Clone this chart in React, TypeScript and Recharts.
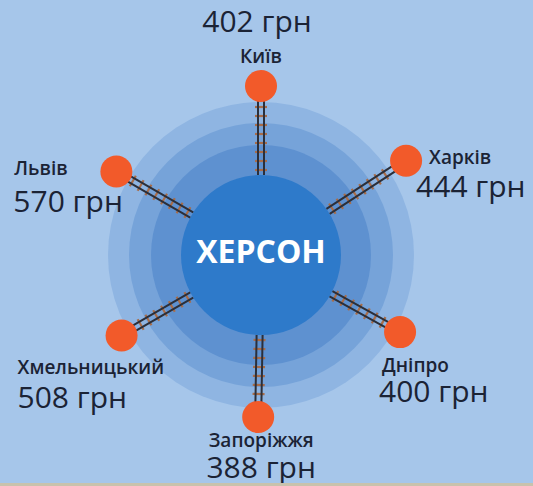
import { ReferenceDot, Scatter, ScatterChart, XAxis, YAxis } from "recharts";

// міста, ціни квитків до Херсона (грн), напрям від центру (градуси) і довжина спиці
const cities = ["Київ", "Харків", "Дніпро", "Запоріжжя", "Хмельницький", "Львів"];
const prices = [402, 444, 400, 388, 508, 570];
const bearings = [90, 33, -29, -91, 210, 150];
const spokes = [169, 173, 159, 162, 161, 167];
const hubName = "ХЕРСОН";
const currency = "грн";

const FONT = "'Open Sans', 'Noto Sans', sans-serif";
const INK = "#1b2335";
const NODE_R = 16;
const HUB_R = 80;

// розташування підписів відносно вузла (px)
const LABELS: Record<string, { anchor: "start" | "middle"; name: [number, number]; price: [number, number] }> = {
  "Київ": { anchor: "middle", name: [0, -23], price: [-4, -54] },
  "Харків": { anchor: "start", name: [23, 3], price: [10, 36] },
  "Дніпро": { anchor: "start", name: [-18, 40], price: [-21, 70] },
  "Запоріжжя": { anchor: "middle", name: [3, 30], price: [3, 61] },
  "Хмельницький": { anchor: "start", name: [-104, 38], price: [-104, 72] },
  "Львів": { anchor: "start", name: [-102, 3], price: [-103, 40] },
};

const rad = (d: number) => (d * Math.PI) / 180;

const rows = cities.map((name, i) => ({
  name,
  price: prices[i],
  x: spokes[i] * Math.cos(rad(bearings[i])),
  y: spokes[i] * Math.sin(rad(bearings[i])),
}));

// колія: від краю центрального кола до краю вузла
const tracks = cities.map((name, i) => {
  const a = rad(bearings[i]);
  const r2 = spokes[i] - NODE_R + 1;
  return {
    name,
    data: [
      { x: HUB_R * Math.cos(a), y: HUB_R * Math.sin(a) },
      { x: r2 * Math.cos(a), y: r2 * Math.sin(a) },
    ],
  };
});

function Track({ points }: any) {
  if (!points || points.length < 2) return null;
  const { x: x1, y: y1 } = points[0];
  const { x: x2, y: y2 } = points[1];
  const dx = x2 - x1;
  const dy = y2 - y1;
  const len = Math.sqrt(dx * dx + dy * dy);
  const ux = dx / len;
  const uy = dy / len;
  const px = -uy;
  const py = ux;
  const ties = [];
  for (let t = 5; t < len - 2; t += 9) {
    const cx = x1 + ux * t;
    const cy = y1 + uy * t;
    ties.push(
      <line
        key={t}
        x1={cx - px * 6}
        y1={cy - py * 6}
        x2={cx + px * 6}
        y2={cy + py * 6}
        stroke="#a86c48"
        strokeWidth={2.2}
      />
    );
  }
  return (
    <g>
      {ties}
      {[-3, 3].map((o) => (
        <line
          key={o}
          x1={x1 + px * o}
          y1={y1 + py * o}
          x2={x2 + px * o}
          y2={y2 + py * o}
          stroke="#2b2f3a"
          strokeWidth={2}
        />
      ))}
    </g>
  );
}

function CityNode({ cx, cy, payload }: any) {
  const l = LABELS[payload.name];
  return (
    <g>
      <circle cx={cx} cy={cy} r={NODE_R} fill="#f25a2a" />
      <text
        x={cx + l.name[0]}
        y={cy + l.name[1]}
        textAnchor={l.anchor}
        fill={INK}
        fontFamily={FONT}
        fontSize={19}
        fontWeight={600}
      >
        {payload.name}
      </text>
      <text
        x={cx + l.price[0]}
        y={cy + l.price[1]}
        textAnchor={l.anchor}
        fill={INK}
        fontFamily={FONT}
        fontSize={30}
      >
        {`${payload.price} ${currency}`}
      </text>
    </g>
  );
}

export default function App() {
  return (
    <div
      style={{
        position: "absolute",
        left: 0,
        top: 0,
        width: 533,
        height: 486,
        background: "#a6c6ea",
        overflow: "hidden",
      }}
    >
      <ScatterChart width={533} height={486} margin={{ top: 0, right: 0, bottom: 0, left: 0 }}>
        <XAxis type="number" dataKey="x" domain={[-261, 272]} hide />
        <YAxis type="number" dataKey="y" domain={[-231, 255]} hide />

        {/* кільця навколо Херсона */}
        <ReferenceDot x={0} y={0} r={153} fill="#8fb5e2" stroke="none" />
        <ReferenceDot x={0} y={0} r={132} fill="#76a3d9" stroke="none" />
        <ReferenceDot x={0} y={0} r={110} fill="#5e91d0" stroke="none" />
        <ReferenceDot
          x={0}
          y={0}
          r={HUB_R}
          fill="#2e7aca"
          stroke="none"
          label={{
            value: hubName,
            position: "center",
            fill: "#ffffff",
            fontSize: 32,
            fontWeight: 700,
            fontFamily: FONT,
            dy: -3,
          }}
        />

        {/* залізничні колії */}
        {tracks.map((t) => (
          <Scatter
            key={t.name}
            data={t.data}
            isAnimationActive={false}
            shape={() => <g />}
            line={(p: any) => <Track points={p.points} />}
          />
        ))}

        <Scatter data={rows} isAnimationActive={false} shape={(p: any) => <CityNode {...p} />} />
      </ScatterChart>
      <div
        style={{
          position: "absolute",
          left: 0,
          top: 483,
          width: 533,
          height: 3,
          background: "#c8c2ad",
        }}
      />
    </div>
  );
}
